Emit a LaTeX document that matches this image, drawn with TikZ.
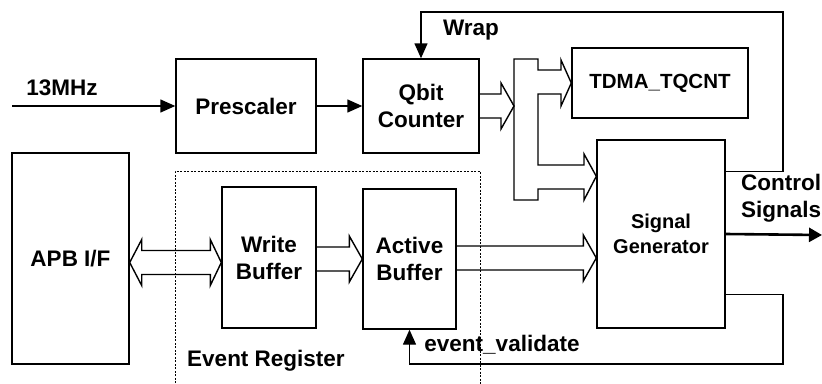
\documentclass[tikz,border=0pt]{standalone}
\usepackage{fontspec}
\setmainfont{Liberation Sans}
\usetikzlibrary{arrows.meta,calc}

\tikzset{
  blk/.style={draw, line width=1.4pt, inner sep=0pt, align=center,
    font=\bfseries\fontsize{22.5}{27}\selectfont},
  wire/.style={line width=1.4pt},
  bus/.style={line width=1.4pt, line join=miter},
  lbl/.style={font=\bfseries\fontsize{22.5}{27}\selectfont, inner sep=0pt},
  tip/.style={-{Triangle[length=15pt,width=13pt]}},
}
% wide bus arrow from the side of #1 to the point #2
\newcommand{\fatarrow}[2]{%
  \draw[bus] ($(#1 |- #2)+(0,-12)$) -- ($(#2)+(-13,-12)$) -- ++(0,-11) -- (#2)
    -- ++(-13,23) -- ++(0,-11) -- ($(#1 |- #2)+(0,12)$);}

\begin{document}
\begin{tikzpicture}[x=1pt,y=-1pt]
  \useasboundingbox (0,0) rectangle (822,383);

  % blocks
  \node[blk, minimum width=140pt, minimum height=94pt]  (pre)  at (246,106)   {Prescaler};
  \node[blk, minimum width=116pt, minimum height=94pt]  (qbit) at (421,106)   {Qbit\\Counter};
  \node[blk, minimum width=176pt, minimum height=70pt,
        font=\bfseries\fontsize{20.5}{24}\selectfont]  (tdma) at (660,83)    {TDMA\_TQCNT};
  \node[blk, minimum width=128pt, minimum height=188pt,
        font=\bfseries\fontsize{20}{25}\selectfont]    (sig)  at (661,234)   {Signal\\Generator};
  \node[blk, minimum width=117pt, minimum height=211pt] (apb)  at (70.5,258.5) {APB I/F};
  \node[blk, minimum width=94pt,  minimum height=141pt] (wbuf) at (269,257.5) {Write\\Buffer};
  \node[blk, minimum width=93pt,  minimum height=140pt] (abuf) at (409.5,259) {Active\\Buffer};

  % event register frame
  \draw[line width=1pt, dash pattern=on 2pt off 1.5pt] (175,390) -- (175,171) -- (480,171) -- (480,390);

  % points
  \coordinate (clk)  at (12,106);
  \coordinate (qin)  at (514,106);
  \coordinate (sgin) at ($(sig.north west)+(0,37)$);
  \coordinate (sgab) at ($(sig.west)+(0,24)$);
  \coordinate (out)  at (822,235);
  \coordinate (apbport) at ($(apb.east)+(0,4)$);
  \coordinate (wbport)  at (wbuf.west |- apbport);

  % clock path
  \draw[wire,tip] (clk) -- (pre.west);
  \draw[wire,tip] (pre.east) -- (qbit.west);

  % counter bus
  \fatarrow{qbit.east}{qin}
  \draw[bus] (514,200) -- (514,59) -- (538,59) -- (538,70) -- (561,70) -- (561,60) -- (tdma.west)
    -- (561,106) -- (561,94) -- (538,94) -- (538,165) -- (584,165) -- (584,154) -- (sgin)
    -- (584,200) -- (584,189) -- (538,189) -- (538,200) -- cycle;

  % event buffers
  \draw[bus] (apbport) -- ++(12,-23) -- ++(0,11) -- ($(wbport)+(-11,-12)$) -- ++(0,-11) -- (wbport)
    -- ++(-11,23) -- ++(0,-11) -- ($(apbport)+(12,12)$) -- ++(0,11) -- cycle;
  \fatarrow{wbuf.east}{abuf.west}
  \fatarrow{abuf.east}{sgab}

  % feedback loops
  \draw[wire,tip] ($(sig.north east)+(0,32)$) -| (783,12) -| (qbit.north);
  \draw[wire,tip] ($(sig.south east)+(0,-34)$) -| (783,364) -| (abuf.south);
  \draw[line width=2.6pt, -{Triangle[length=13pt,width=14pt]}] (sig.east) -- (out);

  % labels
  \node[lbl] (clklbl) at (62,88) {13MHz};
  \node[lbl] (wraplbl) at (471,30) {Wrap};
  \node[lbl, align=left, anchor=west] (ctrllbl) at (741,198) {Control\\Signals};
  \node[lbl] (evlbl) at (502,345) {event\_validate};
  \node[lbl] (reglbl) at (266,361) {Event Register};
\end{tikzpicture}
\end{document}
